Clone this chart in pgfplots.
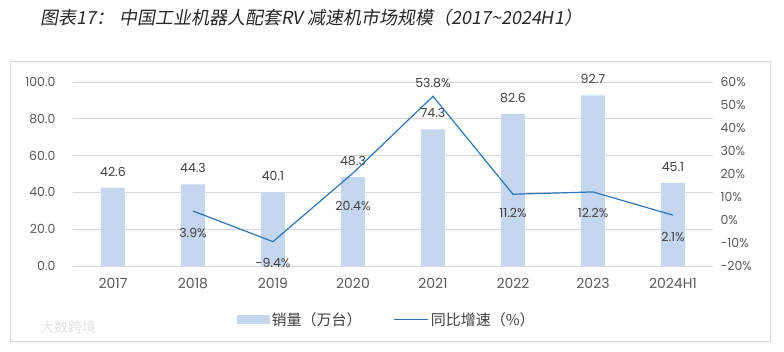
\documentclass[border=0pt]{standalone}
\usepackage{fontspec}
\setmainfont{Poppins}
\newfontfamily\cjk{Noto Sans CJK SC}
\newfontfamily\cjkit[FakeSlant=0.18]{Noto Sans CJK SC}
\usepackage{pgfplots}
\usepackage{pgfplotstable}
\pgfplotsset{compat=1.18}
\definecolor{barc}{HTML}{C5D7EF}
\definecolor{linec}{HTML}{2E75B6}
\definecolor{gridc}{HTML}{D9D9D9}
\definecolor{tickc}{HTML}{595959}
\definecolor{labc}{HTML}{404040}
\pgfplotstableread{
x val
0 42.6
1 44.3
2 40.1
3 48.3
4 74.3
5 82.6
6 92.7
7 45.1
}\bars
\pgfplotstableread{
x g off
1 3.9 -22
2 -9.4 -21
3 20.4 -33
4 53.8 13
5 11.2 -19
6 12.2 -21
7 2.1 -22
}\growth
\begin{document}
\begin{tikzpicture}
\path[use as bounding box] (0pt,0pt) rectangle (784pt,351pt);
\draw[gridc, line width=1pt] (10pt,9.5pt) rectangle (770.5pt,289pt);
\node[font=\cjkit\fontsize{18}{20}\selectfont, text=black!85, anchor=west, inner sep=0pt] at (40pt,333pt) {图表17：\hspace{5pt}中国工业机器人配套RV 减速机市场规模（2017\textasciitilde 2024H1）};
\node[font=\cjk\fontsize{14}{15}\selectfont, text=gray!22, anchor=west, inner sep=0pt] at (40pt,24pt) {大数跨境};
\begin{axis}[
  at={(73pt,85pt)}, anchor=south west,
  scale only axis, width=640pt, height=184pt,
  xmin=-0.5, xmax=7.5, ymin=0, ymax=100,
  axis line style={draw=none},
  major tick length=0pt,
  xtick={0,...,7},
  xticklabels={2017,2018,2019,2020,2021,2022,2023,2024H1},
  ytick={0,20,...,100},
  ymajorgrids, grid style={gridc, line width=0.8pt},
  /pgf/number format/assume math mode=true,
  tick label style={font=\fontsize{12.5}{14}\selectfont, text=tickc},
  xticklabel style={yshift=-9pt, font=\fontsize{14}{16}\selectfont},
  yticklabel style={xshift=-14pt, /pgf/number format/fixed, /pgf/number format/fixed zerofill, /pgf/number format/precision=1},
  legend style={at={(0.49,-0.29)}, anchor=center, draw=none, legend columns=2,
    font=\cjk\fontsize{15}{17}\selectfont, text=labc,
    /tikz/every even column/.append style={column sep=30pt}},
  clip=false,
]
\addplot[ybar, bar width=24pt, fill=barc, draw=none,
  nodes near coords={\pgfmathprintnumber[fixed,fixed zerofill,precision=1]{\pgfplotspointmeta}},
  nodes near coords style={font=\fontsize{12.5}{14}\selectfont, text=labc, yshift=8pt, /pgf/number format/assume math mode=true},
  legend image code/.code={\fill[barc] (0pt,-4.5pt) rectangle (33pt,4.5pt);}
] table[x=x,y=val] {\bars};
\addlegendentry{销量（万台）}
\addlegendimage{linec, line width=1.2pt, legend image code/.code={\draw[linec, line width=1.2pt] (0pt,0pt) -- (34pt,0pt);}}
\addlegendentry{同比增速（\%）}
\end{axis}
\begin{axis}[
  at={(73pt,85pt)}, anchor=south west,
  scale only axis, width=640pt, height=184pt,
  xmin=-0.5, xmax=7.5, ymin=-20, ymax=60,
  axis line style={draw=none},
  major tick length=0pt,
  xtick=\empty,
  ytick={-20,-10,...,60},
  axis y line*=right,
  yticklabel={\pgfmathprintnumber{\tick}\%},
  /pgf/number format/assume math mode=true,
  tick label style={font=\fontsize{12.5}{14}\selectfont, text=tickc},
  yticklabel style={xshift=4pt},
  clip=false,
]
\addplot[linec, line width=1.2pt, mark=none,
  point meta=explicit,
  visualization depends on={\thisrow{off}\as\myoff},
  nodes near coords={\pgfmathprintnumber[fixed,fixed zerofill,precision=1]{\pgfplotspointmeta}\%},
  nodes near coords style={font=\fontsize{12.5}{14}\selectfont, text=labc, anchor=center, yshift=\myoff pt, /pgf/number format/assume math mode=true},
] table[x=x,y=g,meta=g] {\growth};
\end{axis}
\end{tikzpicture}
\end{document}
